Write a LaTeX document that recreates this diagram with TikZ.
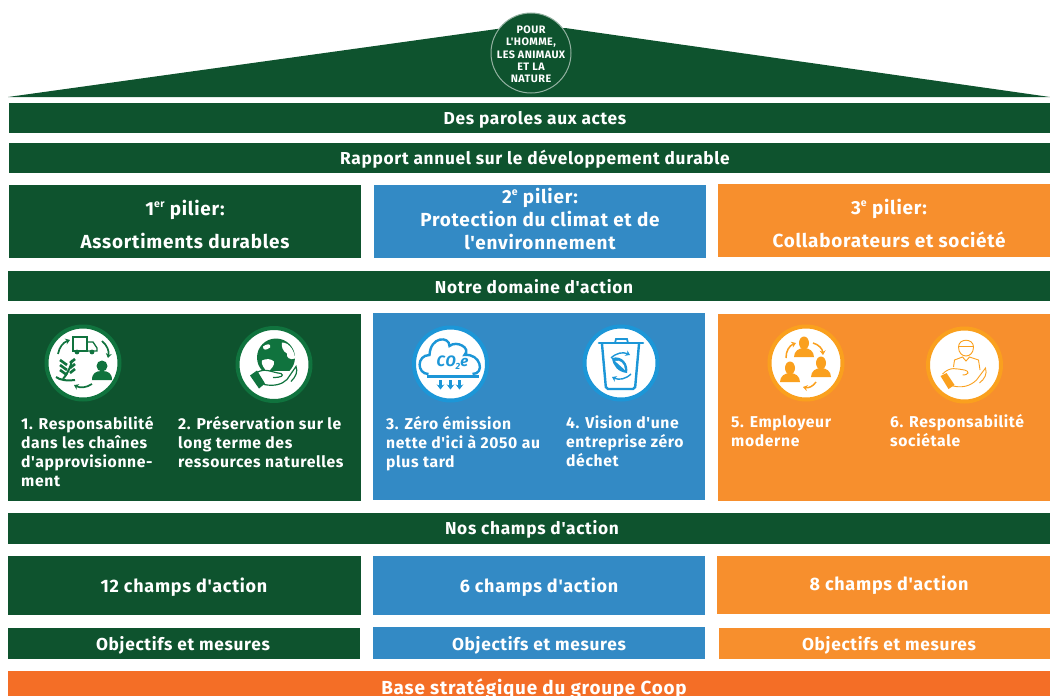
\documentclass[tikz,border=0pt]{standalone}
\usepackage{fontspec}
\setmainfont{Fira Sans}[BoldFont={Fira Sans Bold},Ligatures=TeXOff,LetterSpace=4]
\usetikzlibrary{arrows.meta,positioning,calc}
\definecolor{coopgreen}{RGB}{14,83,46}
\definecolor{coopblue}{RGB}{51,138,197}
\definecolor{cooporange}{RGB}{247,143,45}
\definecolor{coopbase}{RGB}{244,110,38}
\definecolor{ringgreen}{RGB}{16,115,62}
\definecolor{ringblue}{RGB}{28,150,215}
\definecolor{ringorange}{RGB}{250,160,30}
\tikzset{
    bartext/.style={text=white,font=\bfseries\fontsize{17.3}{18}\selectfont,anchor=center,inner sep=0pt},
    fieldtext/.style={text=white,font=\bfseries\fontsize{18}{18}\selectfont,anchor=center,inner sep=0pt},
    bigtext/.style={text=white,font=\bfseries\fontsize{18.9}{23}\selectfont,anchor=center,align=center,inner sep=0pt},
    itemtext/.style={text=white,font=\bfseries\fontsize{15.7}{19}\selectfont,anchor=north west,align=left,inner sep=0pt},
    icondisc/.style={fill=white,line width=4pt},
    iconarrow/.style={line width=1.7pt,-{Stealth[length=4.5pt,width=6pt]}}
}
\newcommand{\supmark}[1]{\raisebox{.45em}{\fontsize{10.5}{10}\selectfont #1}}
\begin{document}
\begin{tikzpicture}[x=1pt,y=-1pt]
    \useasboundingbox (0,0) rectangle (1050,696);

    % Roof with the round badge
    \fill[coopgreen] (8,97) -- (497,29) -- (565,28) -- (1050,97) -- cycle;
    \draw[coopgreen!45!white,fill=coopgreen,line width=1pt] (531,53) circle (40);
    \node[text=white,font=\bfseries\fontsize{10.8}{12.3}\selectfont,align=center,inner sep=0pt] (badge) at (531,54.5)
        {POUR\\L'HOMME,\\LES ANIMAUX\\ET LA\\NATURE};

    % Full width bars
    \fill[coopgreen] (9,103) rectangle (1050,133);
    \node[bartext] (paroles) at (535,119.5) {Des paroles aux actes};
    \fill[coopgreen] (9,143) rectangle (1050,173);
    \node[bartext] (rapport) at (535,159.5) {Rapport annuel sur le développement durable};
    \fill[coopgreen] (8,271) rectangle (1050,301);
    \node[bartext] (domaine) at (534,286.5) {Notre domaine d'action};
    \fill[coopgreen] (8,513) rectangle (1050,544);
    \node[bartext] (champs) at (532,529.5) {Nos champs d'action};
    \fill[coopbase] (8,671) rectangle (1050,696);
    \node[bigtext] (base) at (534,688.5) {Base stratégique du groupe Coop};

    % Pillar headers
    \fill[coopgreen] (9,185) rectangle (361,258);
    \node[bigtext] (pilier1) at (185,210) {1\supmark{er} pilier:};
    \node[bigtext] (durables) at (185,241) {Assortiments durables};
    \fill[coopblue] (374,185) rectangle (706,258);
    \node[bigtext] (pilier2) at (540,219) {2\supmark{e} pilier:\\Protection du climat et de\\l'environnement};
    \fill[cooporange] (718,184) rectangle (1050,257);
    \node[bigtext] (pilier3) at (889,209) {3\supmark{e} pilier:};
    \node[bigtext] (societe) at (889,240) {Collaborateurs et société};

    % Panels
    \fill[coopgreen] (8,314) rectangle (361,501);
    \fill[coopblue] (373,313) rectangle (705,500);
    \fill[cooporange] (718,314) rectangle (1050,501);

    % Discs of the icons
    \foreach \cx/\cy/\ring in {83/363/ringgreen,274/364.5/ringgreen,450.5/364/ringblue,621/363/ringblue,806/363/ringorange,964.5/365/ringorange} {
        \draw[icondisc,draw=\ring] (\cx,\cy) circle (36.5);
    }

    % Icon 1: supply chain
    \begin{scope}[shift={(83,363)},ringgreen]
        \draw[line width=1.3pt] (-10,-26) rectangle (4,-12);
        \draw[line width=1.3pt] (4,-21) -- (10,-21) -- (14,-15) -- (14,-12) -- (4,-12);
        \fill (-6,-11) circle (2.4) (9,-11) circle (2.4);
        \draw[iconarrow] (-25,-9) to[bend left=30] (-13,-23);
        \draw[iconarrow] (19,-22) to[bend left=30] (25,-5);
        \draw[iconarrow] (9,21) to[bend left=30] (-9,22);
        \fill (19,3) circle (5.5);
        \fill (9,17) .. controls (9,10) and (13,8) .. (19,8) .. controls (25,8) and (29,10) .. (29,17) -- cycle;
        \draw[line width=2pt] (-20,16) .. controls (-15,10) and (-12,3) .. (-11,-3);
        \draw[line width=2pt] (-27,14) .. controls (-23,17) and (-17,18) .. (-8,17);
        \foreach \ly in {0,5,10} {
            \draw[line width=2.6pt] (-13,\ly) -- (-8,\ly-4);
            \draw[line width=2.6pt] (-16,\ly+2) -- (-23,\ly-3);
        }
    \end{scope}

    % Icon 2: earth in a hand
    \begin{scope}[shift={(274,364.5)},ringgreen]
        \fill (2,-7) circle (19);
        \fill[white] (-11,-18) .. controls (-5,-22) and (-3,-20) .. (-4,-17) .. controls (-8,-14) and (-11,-14) .. (-11,-18) -- cycle;
        \fill[white] (8,-22) .. controls (16,-22) and (21,-12) .. (21,-6) .. controls (16,-4) and (12,-7) .. (13,-11) .. controls (9,-13) and (7,-18) .. (8,-22) -- cycle;
        \fill[white] (-12,-4) .. controls (-8,-6) and (-3,-6) .. (0,-3) .. controls (1,1) and (-3,4) .. (-6,8) .. controls (-10,4) and (-13,0) .. (-12,-4) -- cycle;
        \fill[white] (-20,6) rectangle (24,24);
        \fill (-24,11) -- (-17,6) -- (-9,19) -- (-15,24) -- cycle;
        \draw[line width=1.2pt] (-17,8) .. controls (-9,3) and (-2,8) .. (7,9) .. controls (10,11) and (8,13) .. (-1,13);
        \draw[line width=1.2pt] (-10,20) .. controls (0,22) and (8,20) .. (13,15) -- (22,2) .. controls (24,7) and (22,12) .. (17,17);
    \end{scope}

    % Icon 3: cloud with CO2e
    \begin{scope}[shift={(450.5,364)},ringblue]
        \draw[line width=2.4pt] (-22,10) .. controls (-34,10) and (-34,-9) .. (-21,-9) .. controls (-20,-28) and (-1,-28) .. (-1,-18)
            .. controls (6,-24) and (21,-16) .. (14,-9) .. controls (30,-11) and (35,10) .. (22,10);
        \draw[line width=2.4pt] (-24,12.5) -- (28,12.5);
        \node[font=\bfseries\itshape\fontsize{15}{15}\selectfont,inner sep=0pt] (cotwo) at (2,-1) {CO\raisebox{-.2em}{\fontsize{9}{9}\selectfont 2}e};
        \foreach \ax in {-10,0,9} {
            \draw[line width=2.4pt,-{Stealth[length=5pt,width=7.5pt]}] (\ax,16) -- (\ax,25.5);
        }
    \end{scope}

    % Icon 4: bin with leaf
    \begin{scope}[shift={(621,363)},ringblue]
        \draw[line width=2.6pt,line cap=round] (-22,-20) -- (22,-20);
        \draw[line width=1.8pt] (-6,-20) -- (-5,-24) -- (6,-24) -- (7,-20);
        \draw[line width=2.4pt,rounded corners=2pt] (-19,-19) -- (-15,26) -- (14,26) -- (18,-19);
        \draw[iconarrow,line width=1.4pt] (-10,-5) to[bend left=35] (9,-8);
        \draw[iconarrow,line width=1.4pt] (10,11) to[bend left=35] (-9,14);
        \fill (-9,-5) .. controls (1,-8) and (8,1) .. (6,10) .. controls (-3,9) and (-8,3) .. (-9,-5) -- cycle;
        \fill[white] (-6,-2) .. controls (-1,-4) and (4,1) .. (4,7) -- cycle;
    \end{scope}

    % Icon 5: people in a circle
    \begin{scope}[shift={(806,363)},ringorange]
        \foreach \px/\py in {-2/-20,-16/5,15/0} {
            \fill (\px,\py) ellipse (5 and 6.5);
            \fill (\px-10,\py+14) .. controls (\px-10,\py+8) and (\px-5,\py+5) .. (\px,\py+5) .. controls (\px+5,\py+5) and (\px+10,\py+8) .. (\px+10,\py+14) -- cycle;
        }
        \draw[iconarrow,line width=1.5pt] (-20,-5) to[bend left=35] (-10,-20);
        \draw[iconarrow,line width=1.5pt] (7,-20) to[bend left=35] (17,-8);
        \draw[iconarrow,line width=1.5pt] (10,19) to[bend left=35] (-3,24);
    \end{scope}

    % Icon 6: person over a hand
    \begin{scope}[shift={(964.5,365)},ringorange,line width=.9pt]
        \draw (-6,-18) .. controls (-6,-27) and (9,-27) .. (9,-18) .. controls (9,-6) and (-6,-6) .. (-6,-18) -- cycle;
        \draw (-6,-19) -- (9,-19);
        \draw (-11,2) -- (-10,-5) -- (-2,-8) -- (1.5,-4) -- (5,-8) -- (14,-5) -- (15.5,5);
        \draw (-22,9) .. controls (-14,1) and (-8,4) .. (0,5) .. controls (5,6) and (5,10) .. (-2,10);
        \draw (-15,20) .. controls (-3,24) and (6,21) .. (12,15) -- (21,3) .. controls (23,9) and (20,14) .. (15,18);
        \fill (-24,11) -- (-18,8) -- (-10,20) -- (-16,24) -- cycle;
    \end{scope}

    % Item texts
    \node[itemtext] (item1) at (21,416) {1. Responsabilité\\dans les chaînes\\d'approvisionne-\\ment};
    \node[itemtext] (item2) at (178,416) {2. Préservation sur le\\long terme des\\ressources naturelles};
    \node[itemtext] (item3) at (386,416) {3. Zéro émission\\nette d'ici à 2050 au\\plus tard};
    \node[itemtext] (item4) at (566,416) {4. Vision d'une\\entreprise zéro\\déchet};
    \node[itemtext] (item5) at (731,415) {5. Employeur\\moderne};
    \node[itemtext] (item6) at (890,414.5) {6. Responsabilité\\sociétale};

    % Number of fields of action
    \fill[coopgreen] (8,556) rectangle (361,615);
    \node[fieldtext] (champs1) at (184,587.5) {12 champs d'action};
    \fill[coopblue] (373,556) rectangle (705,615);
    \node[fieldtext] (champs2) at (539,587.5) {6 champs d'action};
    \fill[cooporange] (717,556) rectangle (1050,614);
    \node[fieldtext] (champs3) at (889,585.5) {8 champs d'action};

    % Goals and measures
    \fill[coopgreen] (8,628) rectangle (360,659);
    \node[bartext] (mesures1) at (183,645.5) {Objectifs et mesures};
    \fill[coopblue] (373,627) rectangle (705,659);
    \node[bartext] (mesures2) at (539,645.5) {Objectifs et mesures};
    \fill[cooporange] (719,628) rectangle (1050,659);
    \node[bartext] (mesures3) at (889,645.5) {Objectifs et mesures};
\end{tikzpicture}
\end{document}
